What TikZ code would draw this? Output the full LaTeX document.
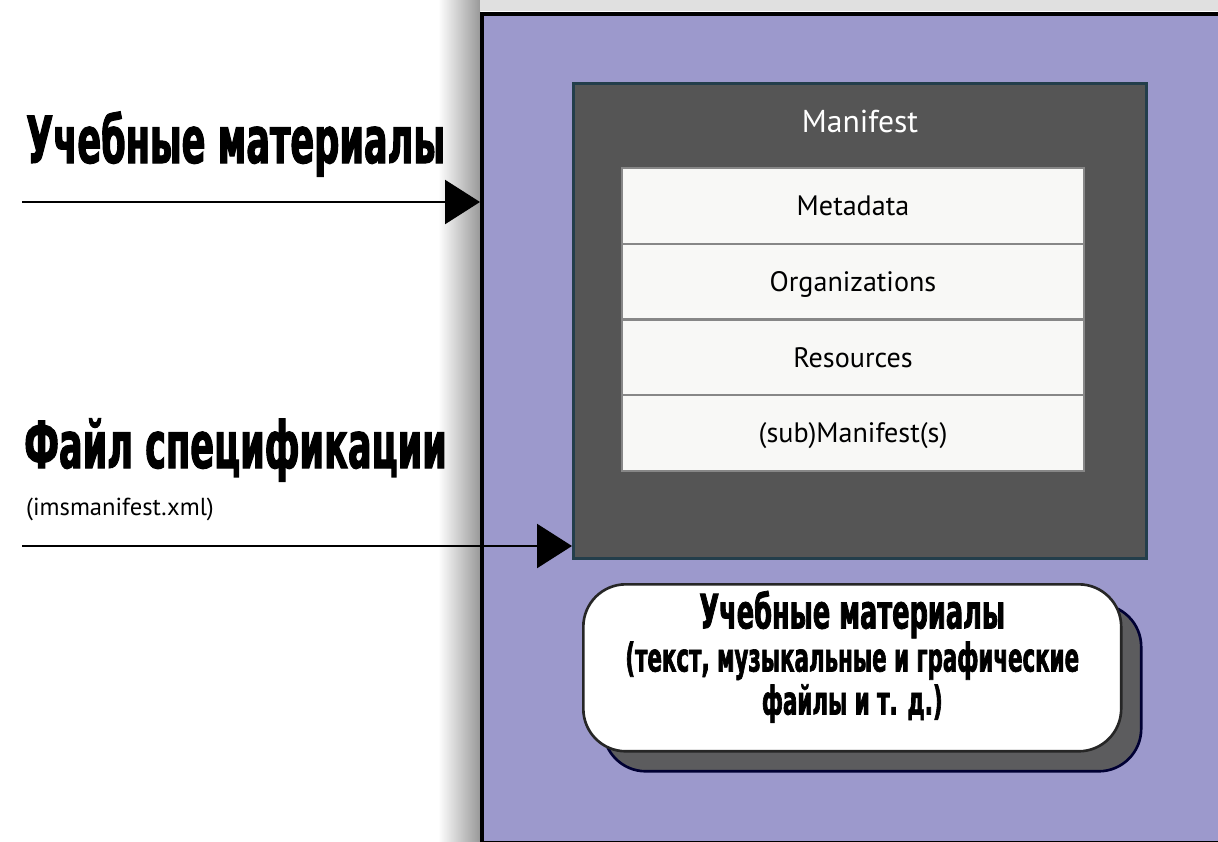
\documentclass[tikz,border=0pt]{standalone}
\usepackage{fontspec}
\setmainfont{PT Sans}
\newfontfamily\heavyfont[FakeStretch=0.54,FakeBold=1.6]{DejaVu Sans}
\usetikzlibrary{arrows.meta}

\definecolor{pkgpurple}{RGB}{156,153,204}
\definecolor{mfgrey}{RGB}{85,85,85}
\definecolor{mfedge}{RGB}{35,62,75}
\definecolor{rowwhite}{RGB}{248,248,246}
\definecolor{rowline}{RGB}{135,135,135}
\definecolor{capshadow}{RGB}{92,92,94}

\tikzset{
	heading/.style={font=\heavyfont\bfseries\fontsize{37}{40}\selectfont, anchor=base west},
	row/.style={draw=rowline, line width=1.2pt, fill=rowwhite, minimum width=9.24cm,
		minimum height=1.515cm, inner sep=0pt, anchor=north, text height=1.1em, text depth=0pt,
		font=\fontsize{16}{18}\selectfont},
	capsule/.style={line width=1.5pt, rounded corners=0.85cm, minimum width=10.76cm,
		minimum height=3.34cm, anchor=north west},
	feed/.style={-{Triangle[length=0.7cm,width=0.88cm]}, line width=1.4pt},
}

\begin{document}
\begin{tikzpicture}[x=0.02cm,y=-0.02cm]
		\clip (0,0) rectangle (1218,842);
		\fill[white] (0,0) rectangle (1218,842);
		% shadow round the package
		\shade[left color=white, right color=black!40] (438,0) rectangle (480,842);
		\fill[black!12] (480,0) rectangle (1218,11);
		\node[draw=black, line width=2.5pt, fill=pkgpurple, minimum width=15.4cm,
			minimum height=16.6cm, anchor=north west] (package) at (480,11.5) {};
		% manifest
		\node[draw=mfedge, line width=1.5pt, fill=mfgrey, minimum width=11.46cm,
			minimum height=9.5cm, anchor=north west] (manifest) at (572,82) {};
		\node[text=white, font=\fontsize{18}{21}\selectfont] (mftitle) at (860,121) {Manifest};
		\foreach \name/\txt [count=\i] in {meta/Metadata, org/Organizations, res/Resources, sub/{(sub)Manifest(s)}}
			\node[row] (\name) at (853,{167+75.75*(\i-1)}) {\txt};
		% learning materials
		\node[capsule, draw=black!80!blue, fill=capshadow] (matshadow) at (602,603) {};
		\node[capsule, draw=black!85, fill=white] (materials) at (582,583) {};
		\node[align=center, font=\heavyfont\bfseries\fontsize{22.5}{24.5}\selectfont] (matlabel)
			at ([yshift=0.22cm]materials.center)
			{{\fontsize{27}{30}\selectfont Учебные материалы}\\(текст, музыкальные и графические\\файлы и т. д.)};
		% inputs
		\node[heading] (matin) at (20,163) {Учебные материалы};
		\node[heading] (specin) at (18,468) {Файл спецификации};
		\node[anchor=base west, font=\fontsize{14}{16}\selectfont] (specfile) at (20,515) {(imsmanifest.xml)};
		\coordinate (matfrom) at (22,202);
		\coordinate (specfrom) at (22,546);
		\draw[feed] (matfrom) -- (matfrom -| package.west);
		\draw[feed] (specfrom) -- (specfrom -| manifest.west);
	\end{tikzpicture}
\end{document}
